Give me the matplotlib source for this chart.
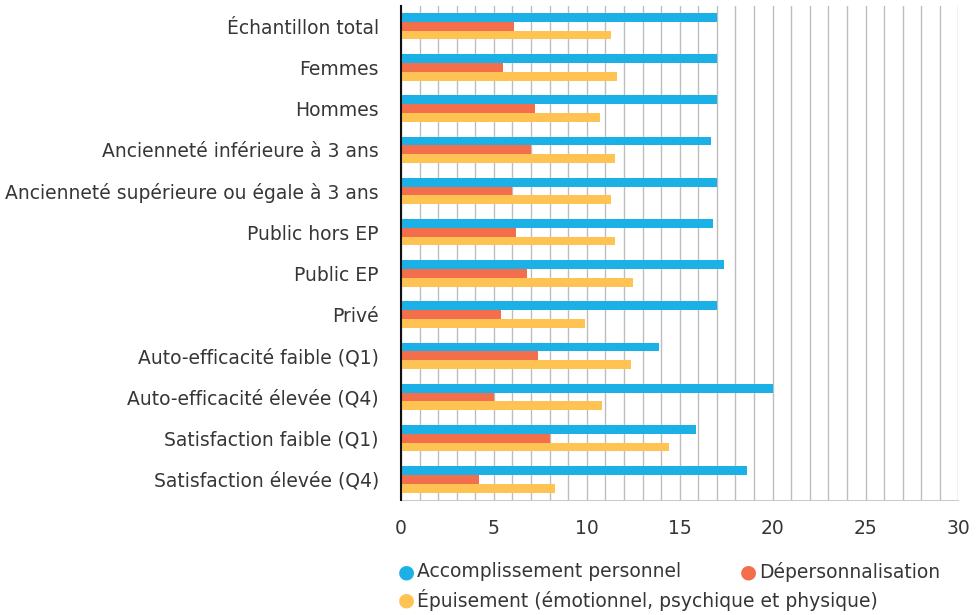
import matplotlib.pyplot as plt
from matplotlib.ticker import MultipleLocator
import numpy as np

categories = ['Échantillon total', 'Femmes', 'Hommes',
              'Ancienneté inférieure à 3 ans',
              'Ancienneté supérieure ou égale à 3 ans',
              'Public hors EP', 'Public EP', 'Privé',
              'Auto-efficacité faible (Q1)', 'Auto-efficacité élevée (Q4)',
              'Satisfaction faible (Q1)', 'Satisfaction élevée (Q4)']
accomplissement = [17.0, 17.0, 17.0, 16.7, 17.0, 16.8, 17.4, 17.0, 13.9, 20.0, 15.9, 18.6]
depersonnalisation = [6.1, 5.5, 7.2, 7.0, 6.0, 6.2, 6.8, 5.4, 7.4, 5.0, 8.0, 4.2]
epuisement = [11.3, 11.6, 10.7, 11.5, 11.3, 11.5, 12.5, 9.9, 12.4, 10.8, 14.4, 8.3]

series_names = ['Accomplissement personnel', 'Dépersonnalisation',
                'Épuisement (émotionnel, psychique et physique)']
colors = ['#1CB1E6', '#F36E4A', '#FFC353']

plt.rcParams['font.family'] = ['DejaVu Sans']
text_color = '#363636'

fig = plt.figure(figsize=(9.78, 6.15), dpi=100)
ax = fig.add_axes([0.41, 0.187, 0.57, 0.804])

y = np.arange(len(categories))
h = 0.213
for i, (vals, c) in enumerate(zip([accomplissement, depersonnalisation, epuisement], colors)):
    ax.barh(y + (i - 1) * h, vals, height=h, color=c, zorder=3)

ax.set_xlim(0, 30)
ax.set_ylim(len(categories) - 0.5, -0.5)
ax.set_yticks(y)
ax.set_yticklabels(categories)
ax.xaxis.set_major_locator(MultipleLocator(5))
ax.xaxis.set_minor_locator(MultipleLocator(1))
ax.grid(True, axis='x', which='both', color='#BDBDBD', linewidth=1, zorder=0)

for s in ['top', 'right']:
    ax.spines[s].set_visible(False)
ax.spines['bottom'].set_color('#CCCCCC')
ax.spines['left'].set_color('#111111')
ax.spines['left'].set_linewidth(1.5)
ax.spines['left'].set_zorder(4)

ax.tick_params(axis='y', length=0, pad=16, labelsize=13.5, labelcolor=text_color)
ax.tick_params(axis='x', which='both', length=0, pad=14, labelsize=13.5, labelcolor=text_color)

# legend as marker + text, laid out like the original
legend_pos = [(0.407, 0.07), (0.757, 0.07), (0.407, 0.024)]
for name, c, (lx, ly) in zip(series_names, colors, legend_pos):
    fig.text(lx, ly, '\u25CF', color=c, fontsize=14, va='center', ha='left')
    fig.text(lx + 0.019, ly, name, color=text_color, fontsize=13.5, va='center', ha='left')

fig.savefig('out.png', dpi=100)
